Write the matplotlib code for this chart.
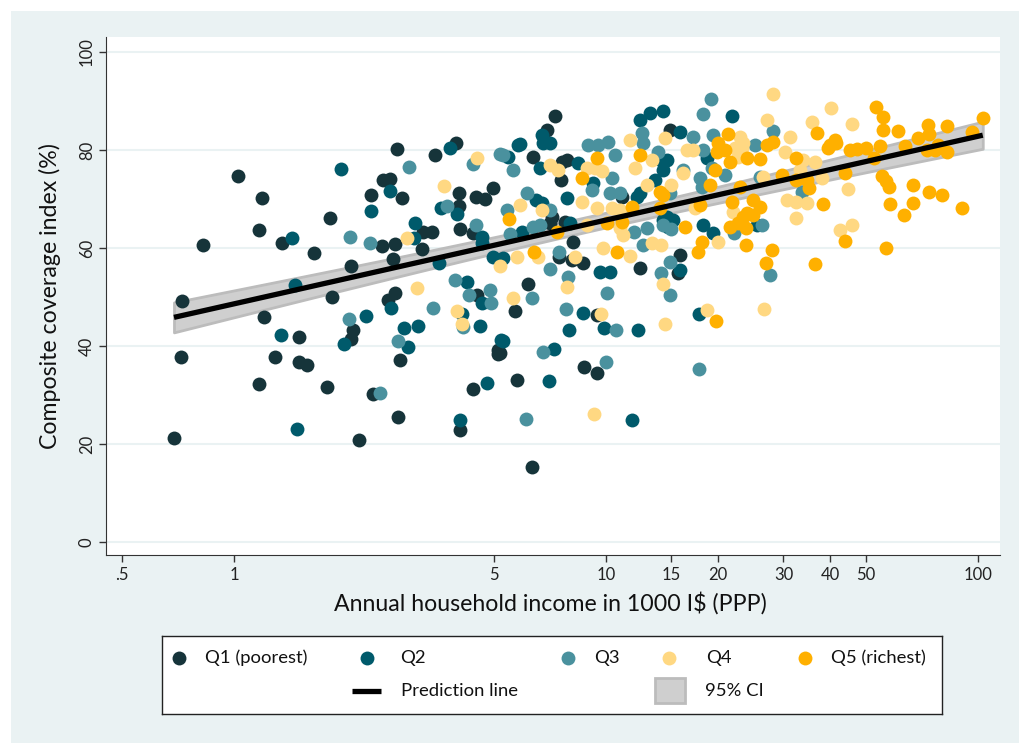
import numpy as np
import matplotlib.pyplot as plt
from matplotlib.patches import Rectangle
from matplotlib.ticker import NullLocator

plt.rcParams['font.family'] = ['Lato', 'DejaVu Sans']

# Household income (1000 I$, PPP) and composite coverage index (%) by wealth quintile
q1_income = [1.025, 1.19, 0.825, 1.167, 1.344, 1.64, 1.81, 0.724, 1.204, 1.492, 1.83, 0.72,
             1.286, 1.50, 1.57, 1.167, 1.778, 0.69, 2.74, 3.47, 3.95, 2.516, 2.62, 2.33,
             2.83, 4.02, 4.47, 4.72, 4.97, 4.02, 4.05, 3.23, 3.40, 2.50, 2.71, 3.21, 4.39,
             2.06, 2.68, 4.50, 2.71, 2.59, 5.69, 2.09, 2.06, 2.79, 5.12, 5.12, 2.36, 2.76,
             2.17, 4.39, 5.76, 4.05, 7.29, 6.94, 6.35, 7.60, 7.85, 7.55, 11.04, 7.16, 7.07,
             7.75, 8.15, 7.50, 8.10, 8.67, 12.33, 6.17, 9.45, 5.19, 8.72, 9.45, 6.32,
             14.86, 15.8, 15.6]
q1_coverage = [74.7, 70.2, 60.6, 63.7, 61.0, 59.0, 66.1, 49.2, 45.9, 41.8, 50.0, 37.8,
               37.8, 36.7, 36.1, 32.2, 31.6, 21.2, 80.2, 79.0, 81.4, 73.9, 74.1, 70.8,
               70.2, 71.2, 70.4, 70.0, 72.2, 68.6, 63.9, 63.3, 63.3, 60.4, 60.8, 59.8, 63.1,
               56.3, 57.8, 50.4, 50.8, 49.4, 47.1, 43.3, 41.4, 37.1, 39.2, 38.4, 30.2, 25.5,
               20.8, 31.2, 33.1, 22.9, 86.9, 84.1, 78.6, 77.6, 78.0, 73.9, 70.4, 66.3, 65.1,
               65.3, 61.2, 58.2, 57.6, 56.9, 55.9, 52.7, 46.3, 38.6, 35.7, 34.5, 15.3,
               84.1, 58.6, 54.9]

q2_income = [1.43, 1.46, 1.34, 1.48, 3.80, 1.94, 5.45, 5.80, 2.62, 2.33, 3.60, 3.98, 3.07,
             3.05, 4.64, 4.64, 3.56, 4.97, 5.28, 4.22, 2.64, 4.64, 2.26, 1.975, 2.86, 3.12,
             2.93, 4.10, 4.58, 5.22, 4.78, 4.05, 6.72, 7.07, 6.77, 5.87, 12.33, 13.13, 14.23,
             6.64, 8.40, 9.22, 14.23, 13.53, 12.33, 7.85, 6.50, 6.72, 12.11, 5.95, 8.0, 14.23,
             14.67, 9.61, 10.25, 8.67, 7.95, 9.88, 12.19, 5.28, 7.26, 7.02, 11.74, 21.8, 15.8,
             18.7, 14.1, 14.6, 14.6, 15.14, 18.2, 19.4, 25.5, 15.8, 17.8]
q2_coverage = [62.0, 52.4, 42.2, 23.1, 80.4, 76.1, 78.6, 81.0, 71.6, 67.6, 68.2, 66.9, 65.1,
               62.0, 62.2, 61.0, 56.9, 58.2, 58.0, 53.1, 47.8, 48.8, 46.1, 40.4, 43.7, 44.1,
               39.8, 46.5, 44.1, 41.2, 32.4, 24.9, 83.1, 81.4, 81.4, 81.2, 86.1, 87.6, 88.0,
               76.3, 77.3, 73.3, 75.9, 73.9, 71.2, 70.2, 69.8, 69.2, 70.4, 63.3, 65.1, 65.7,
               64.3, 55.1, 55.1, 46.7, 43.3, 43.7, 43.3, 41.0, 39.4, 32.9, 24.9, 86.9, 83.7,
               78.4, 78.0, 78.0, 66.3, 65.7, 64.7, 63.1, 64.7, 55.5, 46.5]

q3_income = [2.95, 4.39, 5.19, 5.62, 3.73, 5.42, 4.47, 2.05, 2.32, 5.52, 3.93, 4.88, 4.28,
             3.43, 4.91, 2.04, 2.76, 2.47, 5.28, 12.48, 12.56, 8.94, 9.50, 10.12, 10.56, 9.17,
             10.37, 10.25, 10.9, 13.8, 6.13, 7.07, 6.35, 6.64, 11.9, 12.9, 12.56, 7.5, 14.9,
             7.07, 7.9, 14.1, 6.32, 10.06, 7.8, 10.62, 14.9, 6.77, 10.0, 6.1, 19.1, 18.2,
             28.1, 17.1, 19.4, 25.2, 18.2, 16.1, 20.9, 19.3, 17.9, 25.9, 18.1, 14.9, 33.6,
             14.2, 15.0, 22.1, 26.2, 27.6, 17.8, 4.12]
q3_coverage = [76.5, 77.1, 79.2, 75.9, 68.6, 67.8, 64.7, 62.2, 61.0, 62.9, 53.5, 51.4, 50.4,
               47.8, 48.8, 45.5, 41.0, 30.4, 79.0, 83.5, 81.4, 81.0, 81.0, 81.6, 79.0, 71.8,
               74.3, 71.2, 71.2, 79.6, 71.2, 67.8, 64.3, 64.7, 63.3, 64.1, 60.6, 59.2, 57.1,
               55.7, 54.1, 54.9, 49.8, 50.8, 47.6, 43.3, 50.4, 38.8, 36.7, 25.1, 90.4, 87.3,
               83.9, 82.7, 83.1, 81.0, 80.0, 75.9, 74.9, 76.3, 74.3, 74.5, 72.4, 71.2, 71.4,
               64.7, 63.9, 63.1, 64.7, 54.5, 35.3, 43.9]

q4_income = [4.5, 3.67, 5.87, 2.92, 5.19, 5.76, 3.10, 3.98, 5.62, 4.11, 11.6, 14.4, 7.07,
             7.45, 8.89, 9.34, 9.75, 12.0, 13.3, 12.9, 8.61, 6.72, 9.45, 10.37, 10.9, 8.89,
             10.9, 11.1, 6.55, 8.25, 9.8, 11.6, 13.3, 14.1, 7.85, 14.2, 9.7, 14.4, 9.28,
             28.2, 27.1, 35.8, 40.3, 31.2, 22.9, 23.3, 23.2, 16.5, 17.1, 22.2, 22.6, 30.3,
             33.8, 36.4, 16.1, 26.4, 33.2, 38.0, 15.0, 30.7, 32.5, 34.7, 17.3, 22.0, 32.5,
             20.0, 18.7, 26.6, 45.8, 44.7, 42.5, 45.9]
q4_coverage = [78.4, 72.7, 68.8, 62.0, 56.3, 58.2, 51.8, 47.1, 49.8, 44.5, 82.0, 82.4, 76.9,
               75.9, 76.3, 76.3, 75.7, 76.3, 78.0, 72.9, 69.4, 67.8, 68.2, 68.2, 67.8, 64.7,
               64.1, 62.7, 58.2, 58.2, 60.0, 58.4, 61.0, 60.6, 52.0, 52.7, 46.5, 44.5, 26.1,
               91.4, 86.1, 85.7, 88.6, 82.7, 82.7, 81.4, 80.4, 80.0, 80.0, 80.4, 78.6, 79.6,
               78.0, 77.6, 75.3, 74.5, 75.9, 74.3, 72.9, 69.8, 69.4, 69.2, 68.2, 67.3, 66.1,
               61.2, 47.3, 47.6, 85.3, 72.0, 63.7, 64.7]

q5_income = [5.5, 9.45, 8.61, 12.33, 11.74, 14.0, 7.37, 10.06, 11.04, 6.4, 10.7, 14.0, 14.2,
             36.9, 21.3, 20.0, 19.9, 20.9, 27.1, 28.2, 21.5, 23.9, 25.9, 32.5, 39.5, 19.6,
             29.7, 32.5, 34.7, 19.0, 22.9, 35.1, 38.2, 17.9, 21.8, 24.9, 25.9, 24.8, 23.3,
             23.9, 16.3, 21.5, 22.6, 23.8, 18.1, 17.7, 23.8, 28.0, 27.0, 36.4, 19.8, 53.2,
             55.5, 55.5, 60.9, 41.2, 40.0, 41.5, 45.3, 47.3, 50.0, 54.5, 63.5, 69.0, 73.3,
             73.9, 82.5, 96.1, 103.0, 52.7, 72.9, 76.5, 82.5, 78.0, 43.9, 55.3, 56.6, 57.7,
             67.0, 73.9, 80.0, 90.6, 57.9, 67.0, 63.3, 44.0, 56.6]
q5_coverage = [65.9, 78.4, 74.3, 79.0, 68.4, 68.2, 63.3, 65.1, 65.3, 59.2, 59.2, 71.4, 70.8,
               83.5, 83.3, 81.4, 79.6, 80.0, 81.0, 81.6, 77.6, 78.4, 78.2, 78.4, 80.4, 75.9,
               74.9, 73.9, 73.9, 72.9, 72.4, 72.2, 69.0, 68.8, 69.4, 69.8, 68.4, 66.7, 66.3,
               67.1, 64.3, 64.3, 65.1, 64.1, 61.2, 59.2, 60.6, 59.6, 56.9, 56.7, 45.1, 88.8,
               86.7, 84.1, 83.9, 82.0, 81.0, 81.4, 80.0, 80.2, 80.4, 80.8, 80.8, 82.4, 85.1,
               83.3, 84.9, 83.7, 86.5, 78.4, 80.0, 80.0, 79.6, 81.0, 75.3, 74.7, 73.7, 72.4,
               72.9, 71.4, 70.8, 68.2, 69.0, 69.2, 66.7, 61.4, 60.0]

quintile_labels = ['Q1 (poorest)', 'Q2', 'Q3', 'Q4', 'Q5 (richest)']
quintile_colors = ['#16343A', '#005A6B', '#4A919E', '#FFD882', '#FFB000']

# Linear fit of coverage on log10(income) with its 95% confidence band
fit_intercept = 48.6
fit_slope = 17.1
ci_center_log = 1.0
ci_base = 1.5
ci_spread = 2.3

x_ticks = [0.5, 1, 5, 10, 15, 20, 30, 40, 50, 100]
x_tick_labels = ['.5', '1', '5', '10', '15', '20', '30', '40', '50', '100']
y_ticks = [0, 20, 40, 60, 80, 100]

W, H = 1019, 743
BG = '#EAF2F3'
fig = plt.figure(figsize=(W / 100, H / 100), dpi=100)
fig.patch.set_facecolor('white')
fig.add_artist(Rectangle((11 / W, 0), 1 - 11 / W, 1 - 11 / H, transform=fig.transFigure,
                         facecolor=BG, edgecolor='none', zorder=-10))

ax = fig.add_axes([106 / W, 1 - 555 / H, (1000 - 106) / W, (555 - 37) / H])
ax.set_facecolor('white')
ax.set_xscale('log')
ax.set_xlim(0.453, 114.6)
ax.set_ylim(-2.65, 103.06)

groups = [(q1_income, q1_coverage), (q2_income, q2_coverage), (q3_income, q3_coverage),
          (q4_income, q4_coverage), (q5_income, q5_coverage)]
for (inc, cov), col in zip(groups, quintile_colors):
    ax.scatter(inc, cov, s=100, color=col, linewidths=0, zorder=2)

all_income = np.concatenate([np.asarray(g[0]) for g in groups])
xs = np.logspace(np.log10(all_income.min()), np.log10(all_income.max()), 200)
lx = np.log10(xs)
fit = fit_intercept + fit_slope * lx
half = np.sqrt(ci_base ** 2 + ci_spread ** 2 * (lx - ci_center_log) ** 2)
ax.fill_between(xs, fit - half, fit + half, facecolor='#cfcfcf', edgecolor='#bcbcbc',
                linewidth=2, zorder=1.5)
ax.plot(xs, fit, color='black', lw=3.8, solid_capstyle='butt', zorder=3)

ax.set_xticks(x_ticks)
ax.set_xticklabels(x_tick_labels)
ax.xaxis.set_minor_locator(NullLocator())
ax.set_yticks(y_ticks)
ax.set_yticklabels([str(v) for v in y_ticks], rotation=90, va='center')
ax.tick_params(axis='both', labelsize=12, length=5, width=1, color='#333333',
               labelcolor='#222222')
ax.tick_params(axis='x', pad=4)
ax.tick_params(axis='y', pad=3)
ax.yaxis.grid(True, color=BG, lw=1.5)
ax.set_axisbelow(True)
for side in ['top', 'right']:
    ax.spines[side].set_visible(False)
ax.spines['left'].set_color('#333333')
ax.spines['bottom'].set_color('#333333')

ax.set_xlabel('Annual household income in 1000 I$ (PPP)', fontsize=16.7, color='#111111')
ax.xaxis.set_label_coords((550 - 106) / 894, (555 - 603) / 518)
ax.set_ylabel('Composite coverage index (%)', fontsize=16.7, color='#111111')
ax.yaxis.set_label_coords((50 - 106) / 894, 0.5)
ax.xaxis.label.set_va('center')
ax.yaxis.label.set_va('center')

# Legend panel
lg = fig.add_axes([162 / W, 1 - 714 / H, (942 - 162) / W, (714 - 636) / H])
lg.set_xlim(162, 942)
lg.set_ylim(714, 636)
lg.set_xticks([])
lg.set_yticks([])
lg.set_facecolor('white')
for sp in lg.spines.values():
    sp.set_color('#222222')
    sp.set_linewidth(1)
marker_x = [179, 367, 568, 669, 805]
text_x = [205, 400, 594, 706, 831]
for mx, tx, col, lab in zip(marker_x, text_x, quintile_colors, quintile_labels):
    lg.scatter([mx], [658], s=100, color=col, linewidths=0)
    lg.text(tx, 658, lab, fontsize=13.3, va='center', ha='left', color='#111111')
lg.plot([352, 381], [691, 691], color='black', lw=3.8, solid_capstyle='butt')
lg.text(401, 691, 'Prediction line', fontsize=13.3, va='center', ha='left', color='#111111')
lg.add_patch(Rectangle((655, 678), 30, 25, facecolor='#cfcfcf', edgecolor='#bcbcbc', lw=2))
lg.text(705, 691, '95% CI', fontsize=13.3, va='center', ha='left', color='#111111')

fig.savefig('out.png', dpi=100, facecolor=fig.get_facecolor())
